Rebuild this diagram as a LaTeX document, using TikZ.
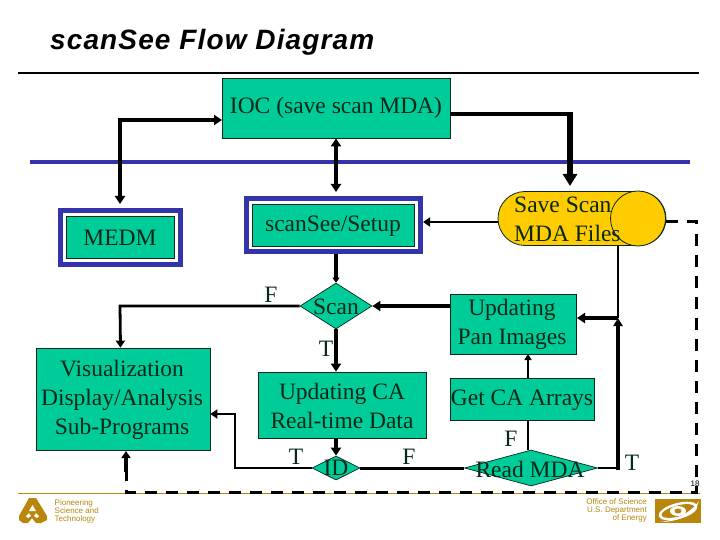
\documentclass[tikz,border=0pt]{standalone}
\usepackage{fontspec}
\setmainfont{Liberation Serif}
\setsansfont{Liberation Sans}
\usetikzlibrary{arrows.meta,shapes.geometric,calc}
\definecolor{boxgreen}{RGB}{0,204,153}
\definecolor{barblue}{RGB}{51,51,170}
\definecolor{gold}{RGB}{255,204,0}
\definecolor{argonne}{RGB}{184,134,11}
\definecolor{ink}{RGB}{5,40,25}
\tikzset{
 x=1pt,y=-1pt,
 lbl/.style={font=\fontsize{23.5}{29}\selectfont,text=ink,inner sep=0,align=center},
 gbox/.style={draw=ink,fill=boxgreen,line width=.7pt,inner sep=0},
 gdia/.style={diamond,draw=ink,fill=boxgreen,line width=.7pt,inner sep=0},
 frame/.style={draw=barblue,line width=5pt,inner sep=0},
 heavy/.style={line width=3.6pt,-{Triangle[width=10pt,length=8pt]}},
 medium/.style={line width=2.8pt,-{Triangle[width=9pt,length=7pt]}},
 plain/.style={line width=2.4pt},
 dashline/.style={line width=3pt,dash pattern=on 12pt off 9pt},
 foot/.style={font=\sffamily\fontsize{8}{8}\selectfont,text=argonne,inner sep=0},
}
\begin{document}
\begin{tikzpicture}
\useasboundingbox (0,0) rectangle (720,540);
\fill[white] (0,0) rectangle (720,540);
% title and rules
\node[anchor=west,inner sep=0,font=\sffamily\itshape\bfseries\fontsize{28}{30}\selectfont\addfontfeature{LetterSpace=4}] (title) at (50,42) {scanSee Flow Diagram};
\coordinate (ruleL) at (18,73); \coordinate (ruleR) at (699,73);
\draw[line width=1.5pt] (ruleL) -- (ruleR);
\coordinate (blueL) at (30,162); \coordinate (blueR) at (690,162);
\draw[barblue,line width=4.5pt] (blueL) -- (blueR);
\coordinate (footL) at (18,493); \coordinate (footR) at (700,493);
\draw[argonne,line width=.7pt] (footL) -- (footR);
% boxes
\node[gbox,minimum width=228pt,minimum height=60pt] (ioc) at (336,108) {};
\node[lbl] (ioct) at (336,108) {IOC (save scan MDA)};
\node[frame,minimum width=120pt,minimum height=53pt] (medmo) at (120.5,237.5) {};
\node[gbox,minimum width=108pt,minimum height=42pt] (medm) at (120.5,237.5) {};
\node[lbl] (medmt) at (120,238) {MEDM};
\node[frame,minimum width=174pt,minimum height=53pt] (setupo) at (333.5,225) {};
\node[gbox,minimum width=162pt,minimum height=42pt] (setup) at (333,225) {};
\node[lbl] (setupt) at (333,226) {scanSee/Setup};
% save scan
\path[draw=ink,fill=gold,line width=.8pt,rounded corners=27pt] (498,191.5) rectangle (666,245.5);
\node[circle,draw=ink,fill=gold,line width=.8pt,inner sep=0,minimum size=55pt] (savec) at (638,218.5) {};
\coordinate (save) at (498,222);
\coordinate (saveE) at (666,222);
\node[lbl,align=left,anchor=west] (savet) at (514,219) {Save Scan\\MDA Files};
% diamonds
\node[gdia,aspect=1.6,minimum width=72pt,minimum height=46pt] (scan) at (336,306) {};
\node[lbl] (scant) at (336,307) {Scan};
\node[gdia,aspect=2,minimum width=48pt,minimum height=24pt] (id) at (336,468) {};
\node[lbl] (idt) at (336,468) {ID};
\node[gdia,aspect=3.7,minimum width=133pt,minimum height=36pt] (read) at (531,468) {};
\node[lbl] (readt) at (530,469) {Read MDA};
% process boxes
\node[gbox,minimum width=174pt,minimum height=102pt] (vis) at (123,399) {};
\node[lbl] (vist) at (122,400) {Visualization\\Display/Analysis\\Sub-Programs};
\node[gbox,minimum width=168pt,minimum height=66pt] (ca) at (342,405) {};
\node[lbl] (cat) at (342,405.5) {Updating CA\\Real-time Data};
\node[gbox,minimum width=126pt,minimum height=60pt] (pan) at (513,324) {};
\node[lbl] (pant) at (512,324.5) {Updating\\Pan Images};
\node[gbox,minimum width=144pt,minimum height=42pt] (get) at (522,399) {};
\node[lbl] (gett) at (522,400) {Get CA Arrays};
% labels
\node[lbl] (lF1) at (271,295) {F};
\node[lbl] (lT1) at (326,349) {T};
\node[lbl] (lT2) at (296,457) {T};
\node[lbl] (lF2) at (409,457) {F};
\node[lbl] (lF3) at (511,439) {F};
\node[lbl] (lT3) at (632,463) {T};
\node[font=\sffamily\fontsize{8}{8}\selectfont,inner sep=0] (pg) at (695,484) {18};
% connectors
\draw[heavy,{Triangle[width=10pt,length=8pt]}-{Triangle[width=10pt,length=8pt]}] (ioc.south) -- (336,192);
\draw[heavy,{Triangle[width=10pt,length=8pt]}-{Triangle[width=10pt,length=8pt]}] (222,120) -- (120,120) -- (120,204);
\draw[line width=3.6pt] (450,114) -- (570,114);
\draw[line width=6pt,-{Triangle[width=14pt,length=12pt]}] (570,112) -- (570,186);
\draw[medium] (save) -- (setupo.east |- save);
\draw[heavy,-{Triangle[width=7pt,length=5pt]}] (setupo.south -| scan.north) -- (scan.north);
\draw[medium] (scan.west) -- (120,306) -- (vis.north -| medm.center);
\draw[heavy] (scan.south) -- (ca.north -| scan.south);
\draw[heavy] (ca.south -| id.north) -- (id.north);
\draw[medium] (id.west) -- (235,468) -- (235,414) -- (vis.east |- 0,414);
\draw[line width=3pt] (read.west) -- (id.east);
\draw[heavy] (pan.west |- scan.east) -- (scan.east);
\draw[plain,-{Triangle[width=7pt,length=6pt]}] (528,378) -- (528,354);
\draw[plain] (528,450) -- (528,420);
\draw[plain] (read.east) -- (618,468);
\draw[heavy,-{Triangle[width=9pt,length=8pt]}] (618,469.5) -- (618,318);
\draw[plain] (618,246) -- (618,318);
\draw[heavy,-{Triangle[width=10pt,length=8pt]}] (618,318) -- (577,318);
% dashed feedback
\coordinate (d1) at (666,222);
\coordinate (d2) at (696.5,222);
\coordinate (d3) at (696.5,492);
\coordinate (d4) at (126,492);
\draw[dashline] (d1) -- (d2) -- (d3) -- (d4) -- (126,470);
\draw[line width=3.6pt,-{Triangle[width=9pt,length=7pt]}] (126,472) -- (126,451);
% footer text
\node[foot,anchor=north west,align=left] (fl) at (54.5,499.5) {Pioneering\\Science and\\Technology};
\node[foot,anchor=north east,align=right] (fr) at (647,498) {Office of Science\\U.S. Department\\of Energy};
% Argonne logo
\fill[argonne] (29,498) -- (36,498) -- (47,516) -- (47,520) -- (41,523) -- (36,523) -- (32,518) -- (28,523) -- (23,523) -- (19,520) -- (19,516) -- cycle;
\fill[white] (32.5,505) -- (36,511) -- (29,511) -- cycle;
\fill[white] (26,516) -- (29,513) -- (31,516) -- (28,518) -- cycle;
\fill[white] (34,516) -- (36,513) -- (39,516) -- (37,518) -- cycle;
% DOE logo
\fill[argonne] (655,498.5) rectangle (701,523);
\fill[white,rotate around={15:(678,511)}] (678,511) ellipse[x radius=20,y radius=8];
\fill[argonne,rotate around={15:(678,511)}] (678,511) ellipse[x radius=17,y radius=5.5];
\fill[white] (678,511) ellipse[x radius=8,y radius=5];
\fill[argonne] (678,511) ellipse[x radius=3.5,y radius=2.5];
\fill[white] (660,522) .. controls (672,521) and (690,514) .. (699,501) .. controls (696,513) and (680,522) .. cycle;
\end{tikzpicture}
\end{document}
